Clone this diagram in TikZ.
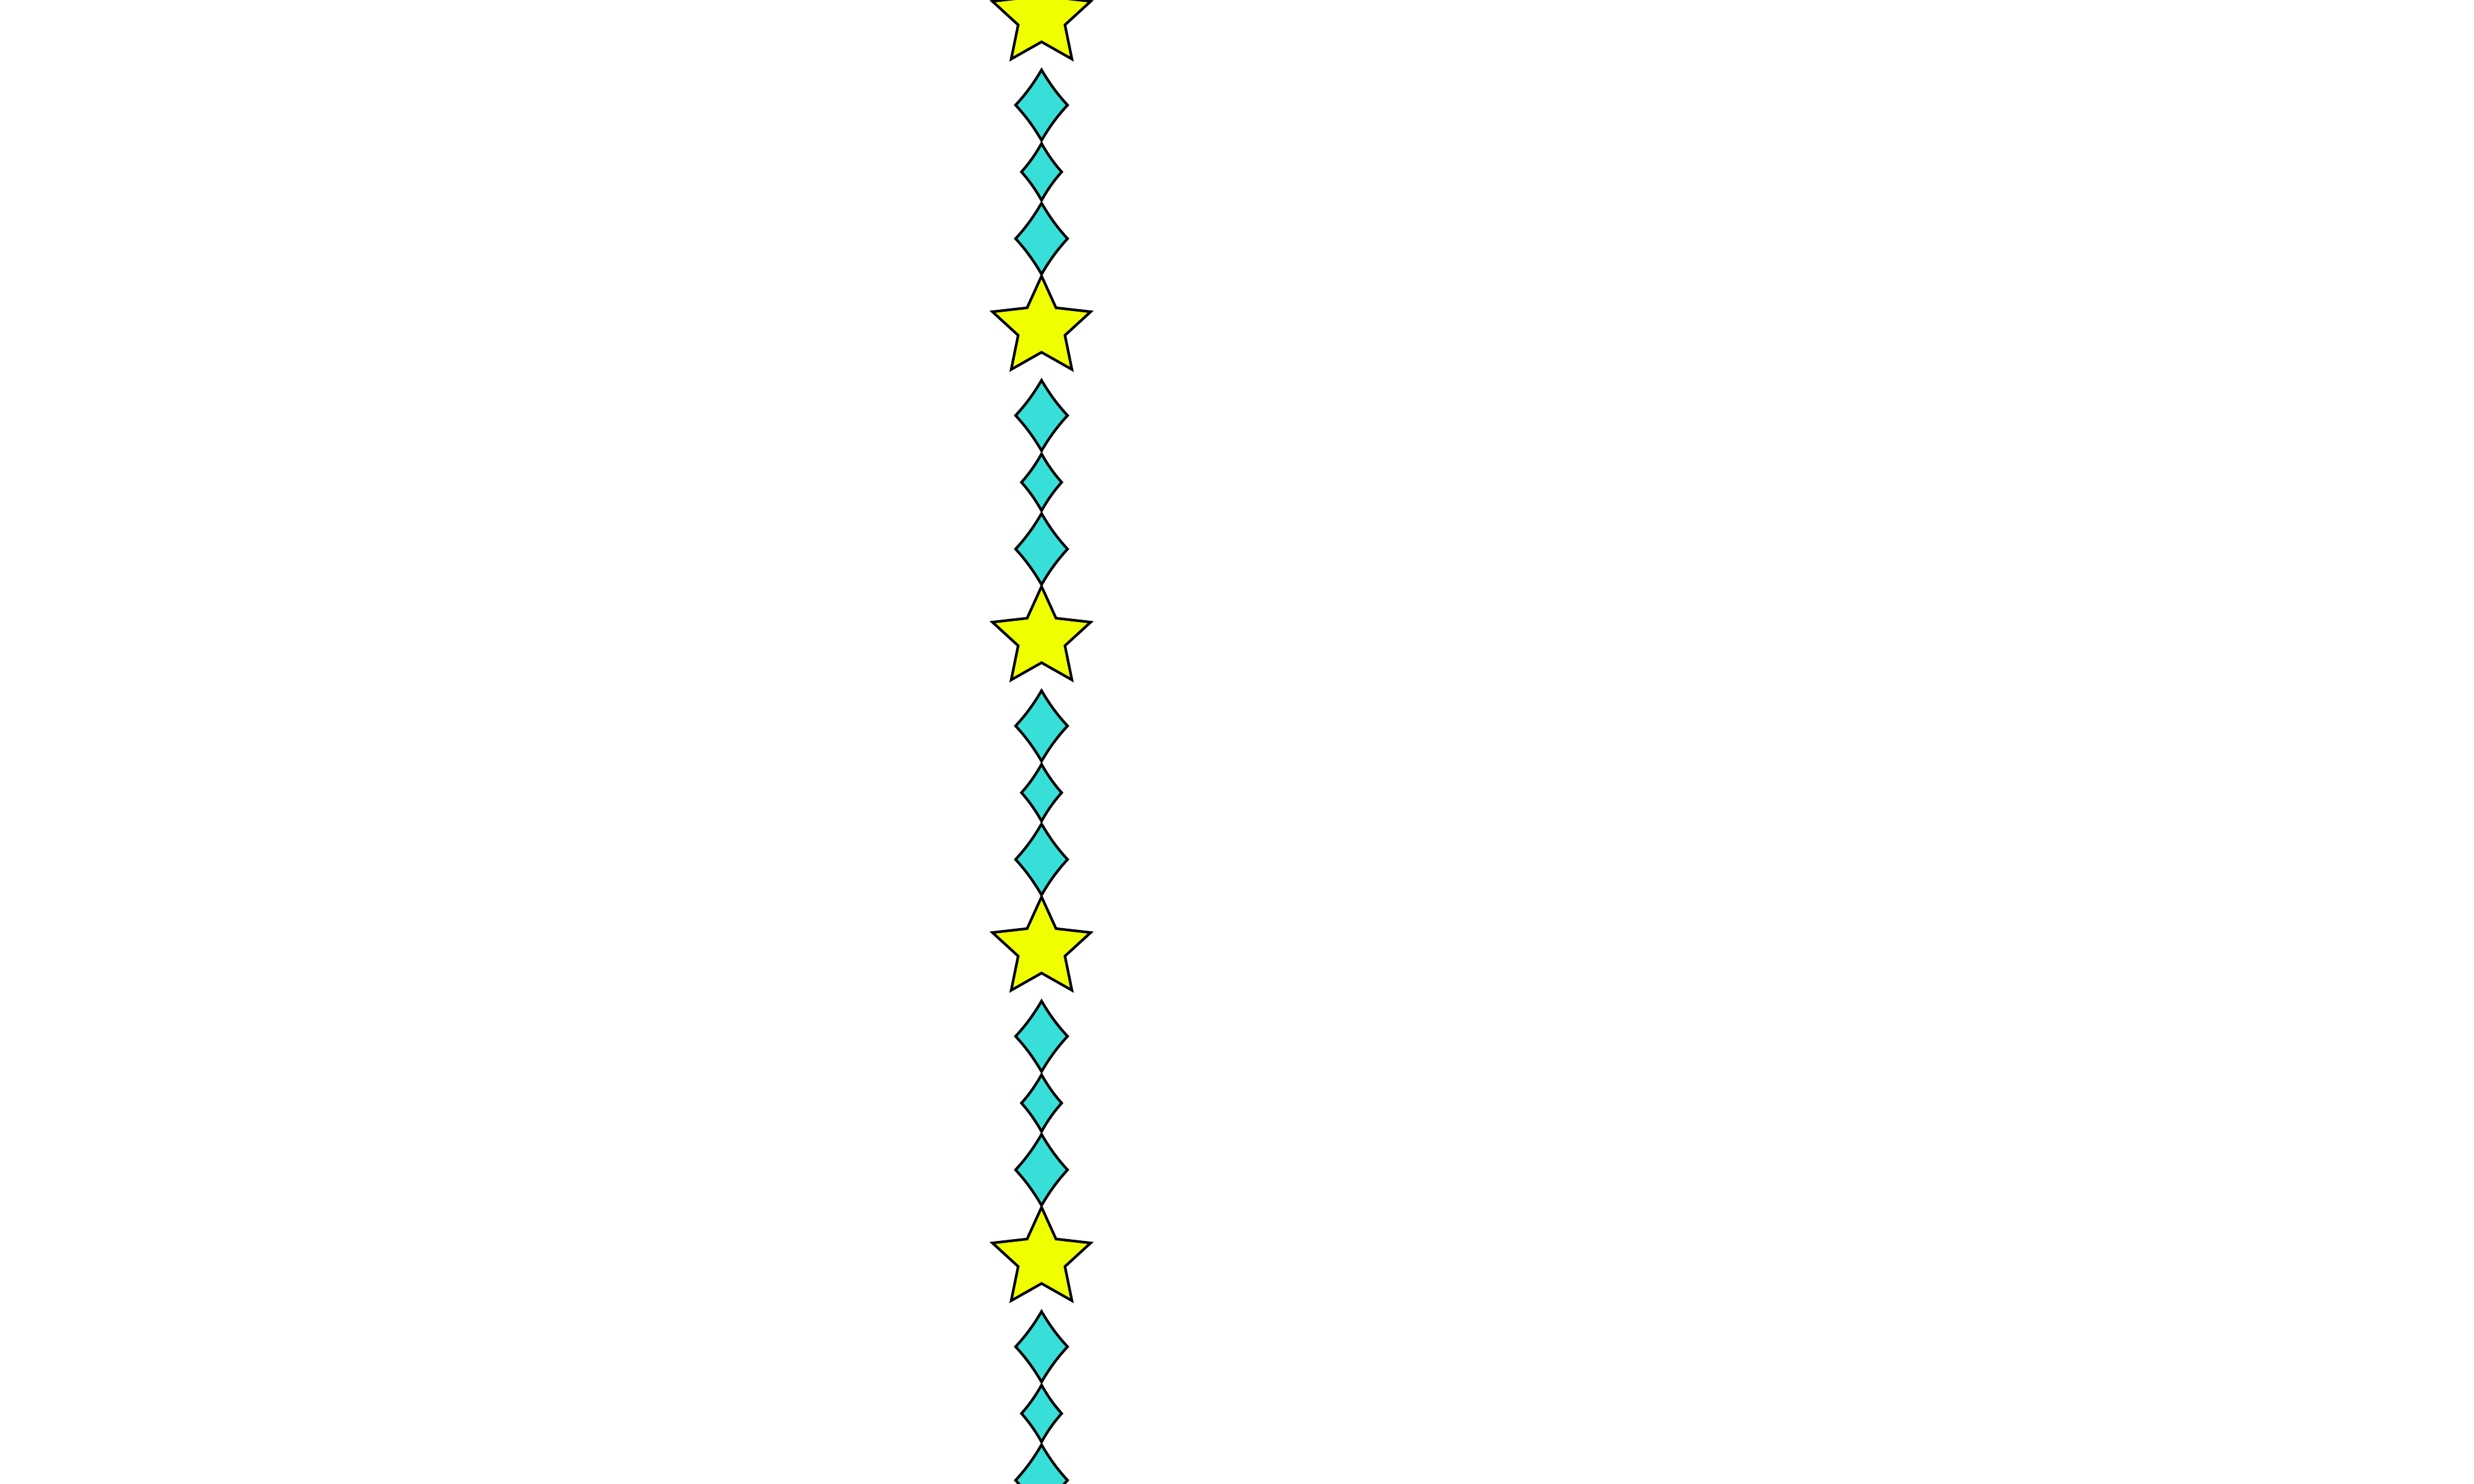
\documentclass[tikz,border=0pt]{standalone}
\usetikzlibrary{shapes.geometric}
\definecolor{staryellow}{HTML}{F0FF00}
\definecolor{gemcyan}{HTML}{38DED8}

\begin{document}
\begin{tikzpicture}[
  bigstar/.style={star, star points=5, star point ratio=2.1, minimum size=1.67cm,
    inner sep=0pt, outer sep=0pt, draw=black, line width=1.2pt, fill=staryellow},
  gem/.style={draw=black, line width=1.2pt, fill=gemcyan}]
\useasboundingbox (0,0) rectangle (40,24);
\clip (0,0) rectangle (40,24);
\foreach \c [count=\n] in {23.72,18.70,13.68,8.66,3.64}{
  \node[bigstar] (star\n) at (16.84,\c) {};
  \foreach \dy/\w/\h in {1.42/0.42/0.57, 2.50/0.325/0.46, 3.58/0.42/0.575}{
    \begin{scope}[shift={(16.84,\c-\dy)}]
    \draw[gem] (0,\h) .. controls (0.307*\w,0.613*\h) and (0.613*\w,0.307*\h) .. (\w,0)
      .. controls (0.613*\w,-0.307*\h) and (0.307*\w,-0.613*\h) .. (0,-\h)
      .. controls (-0.307*\w,-0.613*\h) and (-0.613*\w,-0.307*\h) .. (-\w,0)
      .. controls (-0.613*\w,0.307*\h) and (-0.307*\w,0.613*\h) .. cycle;
    \end{scope}
  }
}
\end{tikzpicture}
\end{document}
